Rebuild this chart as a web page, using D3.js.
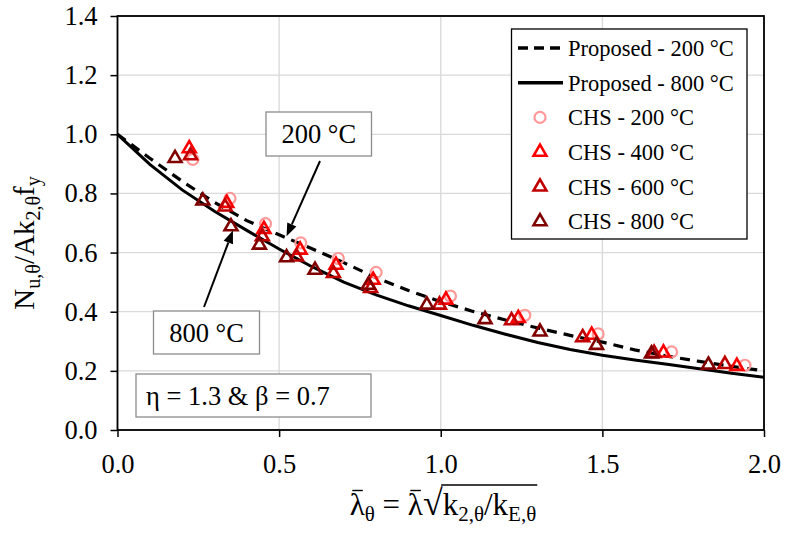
<!DOCTYPE html>
<html>
<head>
<meta charset="utf-8">
<script src="https://cdn.jsdelivr.net/npm/d3@7"></script>
<style>
  body { margin: 0; background: #fff; }
</style>
</head>
<body>
<svg id="chart" width="786" height="536" style="font-family:'Liberation Serif'"></svg>
<script>
// Normalised slenderness grid for the proposed design curves
const lambdaGrid = [0.0, 0.1, 0.2, 0.3, 0.4, 0.5, 0.6, 0.7, 0.8, 0.9, 1.0,
                    1.1, 1.2, 1.3, 1.4, 1.5, 1.6, 1.7, 1.8, 1.9, 2.0];
const proposed200 = [1.000, 0.919, 0.841, 0.770, 0.708, 0.660, 0.614, 0.566, 0.515, 0.472, 0.434,
                     0.401, 0.372, 0.345, 0.320, 0.297, 0.271, 0.250, 0.232, 0.215, 0.200];
const proposed800 = [1.000, 0.898, 0.812, 0.740, 0.675, 0.612, 0.553, 0.500, 0.457, 0.420, 0.387,
                     0.354, 0.324, 0.296, 0.272, 0.253, 0.237, 0.222, 0.207, 0.192, 0.178];

// Test / FE results for CHS columns at each temperature
const chs200x = [0.233, 0.348, 0.458, 0.567, 0.683, 0.800, 1.030, 1.260, 1.487, 1.714, 1.941];
const chs200y = [0.915, 0.783, 0.698, 0.633, 0.580, 0.533, 0.453, 0.388, 0.325, 0.264, 0.219];
const chs400x = [0.222, 0.338, 0.453, 0.565, 0.676, 0.791, 1.016, 1.240, 1.467, 1.689, 1.916];
const chs400y = [0.952, 0.767, 0.679, 0.609, 0.558, 0.507, 0.440, 0.378, 0.321, 0.261, 0.216];
const chs600x = [0.226, 0.333, 0.448, 0.554, 0.668, 0.783, 0.996, 1.219, 1.439, 1.660, 1.879];
const chs600y = [0.928, 0.755, 0.654, 0.586, 0.530, 0.479, 0.423, 0.370, 0.313, 0.260, 0.222];
const chs800x = [0.178, 0.264, 0.351, 0.439, 0.523, 0.611, 0.776, 0.957, 1.137, 1.307, 1.482, 1.652, 1.828];
const chs800y = [0.919, 0.775, 0.688, 0.626, 0.583, 0.541, 0.490, 0.423, 0.374, 0.332, 0.287, 0.258, 0.220];

const xTicks = [0.0, 0.5, 1.0, 1.5, 2.0];
const yTicks = [0.0, 0.2, 0.4, 0.6, 0.8, 1.0, 1.2, 1.4];

const seriesNames = ["Proposed - 200 °C", "Proposed - 800 °C",
                     "CHS - 200 °C", "CHS - 400 °C", "CHS - 600 °C", "CHS - 800 °C"];

const svg = d3.select("#chart");
const FONT = "'Liberation Serif'";
const styleText = size => sel => sel.style("font-family", FONT).style("font-size", size + "px").attr("fill", "#000");

const x = d3.scaleLinear().domain([0, 2]).range([117.5, 764]);
const y = d3.scaleLinear().domain([0, 1.4]).range([430, 16]);

// gridlines
const grid = svg.append("g");
grid.selectAll("line.v").data(xTicks).join("line")
  .attr("x1", d => x(d)).attr("x2", d => x(d))
  .attr("y1", y(0)).attr("y2", y(1.4))
  .attr("stroke", "#d9d9d9").attr("stroke-width", 1.3);
grid.selectAll("line.h").data(yTicks).join("line")
  .attr("x1", x(0)).attr("x2", x(2))
  .attr("y1", d => y(d)).attr("y2", d => y(d))
  .attr("stroke", "#d9d9d9").attr("stroke-width", 1.3);

// axes
const yAxis = svg.append("g").attr("transform", `translate(${x(0)},0)`)
  .call(d3.axisLeft(y).tickValues(yTicks).tickFormat(d3.format(".1f")).tickSize(7).tickPadding(13));
const xAxis = svg.append("g").attr("transform", `translate(0,${y(0)})`)
  .call(d3.axisBottom(x).tickValues(xTicks).tickFormat(d3.format(".1f")).tickSize(7).tickPadding(17));
[xAxis, yAxis].forEach(a => {
  a.attr("font-family", null).attr("font-size", null);
  a.select(".domain").remove();
  a.selectAll("line").attr("stroke", "#000").attr("stroke-width", 1.5);
  a.selectAll("text").call(styleText(26.5));
});
// plot frame
svg.append("rect")
  .attr("x", x(0)).attr("y", y(1.4))
  .attr("width", x(2) - x(0)).attr("height", y(0) - y(1.4))
  .attr("fill", "none").attr("stroke", "#000").attr("stroke-width", 1.8);

// design curves
const line = d3.line().x(d => x(d[0])).y(d => y(d[1]));
svg.append("path").datum(lambdaGrid.map((l, i) => [l, proposed800[i]]))
  .attr("d", line).attr("fill", "none").attr("stroke", "#000").attr("stroke-width", 3);
svg.append("path").datum(lambdaGrid.map((l, i) => [l, proposed200[i]]))
  .attr("d", line).attr("fill", "none").attr("stroke", "#000").attr("stroke-width", 3.2)
  .attr("stroke-dasharray", "10,7");

// markers
const tri = d3.symbol().type(d3.symbolTriangle).size(72);
function drawCircles(xs, ys, color) {
  svg.append("g").selectAll("circle").data(xs.map((v, i) => [v, ys[i]])).join("circle")
    .attr("cx", d => x(d[0])).attr("cy", d => y(d[1])).attr("r", 5.5)
    .attr("fill", "none").attr("stroke", color).attr("stroke-width", 2.2);
}
function drawTriangles(xs, ys, color) {
  svg.append("g").selectAll("path").data(xs.map((v, i) => [v, ys[i]])).join("path")
    .attr("d", tri).attr("transform", d => `translate(${x(d[0])},${y(d[1])})`)
    .attr("fill", "none").attr("stroke", color).attr("stroke-width", 2.6);
}
const colors = { c200: "#ff9999", c400: "#ff0000", c600: "#c00000", c800: "#800000" };
drawCircles(chs200x, chs200y, colors.c200);
drawTriangles(chs400x, chs400y, colors.c400);
drawTriangles(chs600x, chs600y, colors.c600);
drawTriangles(chs800x, chs800y, colors.c800);

// legend
const lg = svg.append("g");
lg.append("rect").attr("x", 511.5).attr("y", 29).attr("width", 235.5).attr("height", 210)
  .attr("fill", "#fff").attr("stroke", "#000").attr("stroke-width", 1.3);
const rowY = i => 48 + i * 34.7;
lg.append("line").attr("x1", 518).attr("x2", 561).attr("y1", rowY(0)).attr("y2", rowY(0))
  .attr("stroke", "#000").attr("stroke-width", 3.4).attr("stroke-dasharray", "10,6");
lg.append("line").attr("x1", 518).attr("x2", 563).attr("y1", rowY(1)).attr("y2", rowY(1))
  .attr("stroke", "#000").attr("stroke-width", 3.4);
lg.append("circle").attr("cx", 540).attr("cy", rowY(2)).attr("r", 5.5)
  .attr("fill", "none").attr("stroke", colors.c200).attr("stroke-width", 2.2);
[colors.c400, colors.c600, colors.c800].forEach((c, k) => {
  lg.append("path").attr("d", tri).attr("transform", `translate(540,${rowY(3 + k)})`)
    .attr("fill", "none").attr("stroke", c).attr("stroke-width", 2.6);
});
seriesNames.forEach((n, i) => {
  lg.append("text").attr("x", 568).attr("y", rowY(i)).attr("dy", "0.35em")
    .call(styleText(22.5)).text(n);
});

// callouts
function arrow(x1, y1, x2, y2) {
  const ang = Math.atan2(y2 - y1, x2 - x1), L = 13, W = 5;
  const bx = x2 - L * Math.cos(ang), by = y2 - L * Math.sin(ang);
  svg.append("line").attr("x1", x1).attr("y1", y1).attr("x2", bx).attr("y2", by)
    .attr("stroke", "#000").attr("stroke-width", 2);
  svg.append("path").attr("d",
    `M${x2},${y2}L${bx + W * Math.sin(ang)},${by - W * Math.cos(ang)}L${bx - W * Math.sin(ang)},${by + W * Math.cos(ang)}Z`)
    .attr("fill", "#000");
}
function callout(x0, y0, w, h, label, anchor) {
  svg.append("rect").attr("x", x0).attr("y", y0).attr("width", w).attr("height", h)
    .attr("fill", "#fff").attr("stroke", "#8c8c8c").attr("stroke-width", 1.3);
  const t = svg.append("text").attr("y", y0 + h / 2).attr("dy", "0.35em").call(styleText(26.5)).text(label);
  if (anchor === "middle") t.attr("x", x0 + w / 2).attr("text-anchor", "middle");
  else t.attr("x", x0 + 10);
}
arrow(320, 161, x(0.523), y(0.655));
callout(266, 112, 105.5, 44, "200 °C", "middle");
arrow(204, 307, x(0.357), y(0.675));
callout(153.5, 311, 106, 43, "800 °C", "middle");
callout(136, 374, 235, 43, "η = 1.3 & β = 0.7", "start");

// y-axis title
const SUB = "20px";
const yt = svg.append("text").attr("transform", "translate(34,243) rotate(-90)")
  .attr("text-anchor", "middle").call(styleText(29));
yt.append("tspan").text("N");
yt.append("tspan").attr("dy", 6).style("font-size", SUB).text("u,θ");
yt.append("tspan").attr("dy", -6).text("/Ak");
yt.append("tspan").attr("dy", 6).style("font-size", SUB).text("2,θ");
yt.append("tspan").attr("dy", -6).text("f");
yt.append("tspan").attr("dy", 6).style("font-size", SUB).text("y");

// x-axis title: λ̄θ = λ̄ √(k2,θ / kE,θ)
const BASE = 515;
const XSUB = "21px";
const xt = svg.append("text").attr("x", 0).attr("y", BASE).call(styleText(31));
xt.append("tspan").text("λ");
xt.append("tspan").attr("dy", 6).style("font-size", XSUB).text("θ");
xt.append("tspan").attr("dy", -6).text(" = λ");
xt.append("tspan").style("font-size", "36px").text("√");
xt.append("tspan").text("k");
xt.append("tspan").attr("dy", 6).style("font-size", XSUB).text("2,θ");
xt.append("tspan").attr("dy", -6).text("/k");
xt.append("tspan").attr("dy", 6).style("font-size", XSUB).text("E,θ");
const node = xt.node();
const w = node.getComputedTextLength();
xt.attr("x", 443 - w / 2);
const content = node.textContent;
const n = node.getNumberOfChars();
// bars over both lambdas
[content.indexOf("λ"), content.lastIndexOf("λ")].forEach(i => {
  const a = node.getStartPositionOfChar(i), b = node.getEndPositionOfChar(i);
  svg.append("line").attr("x1", a.x + 2.5).attr("x2", b.x - 2)
    .attr("y1", BASE - 24.5).attr("y2", BASE - 24.5).attr("stroke", "#000").attr("stroke-width", 1.4);
});
// vinculum of the square root
const ri = content.indexOf("√");
const rEnd = node.getEndPositionOfChar(ri);
const tEnd = node.getEndPositionOfChar(n - 1);
svg.append("line").attr("x1", rEnd.x - 1.5).attr("x2", tEnd.x + 1)
  .attr("y1", BASE - 30).attr("y2", BASE - 30).attr("stroke", "#000").attr("stroke-width", 1.4);
</script>
</body>
</html>
